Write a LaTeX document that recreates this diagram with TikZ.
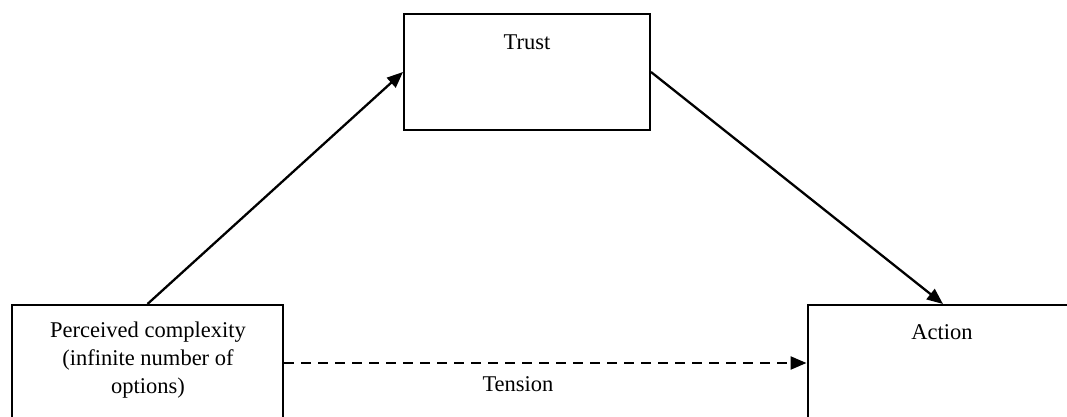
\documentclass[tikz,border=0pt]{standalone}
\usepackage{fontspec}
\setmainfont{Liberation Serif}
\usetikzlibrary{arrows.meta}
\begin{document}
\begin{tikzpicture}[x=1pt,y=-1pt,
  box/.style={draw, line width=2pt, minimum width=271pt, minimum height=116pt, inner sep=0pt},
  lbl/.style={font=\fontsize{22.5}{28}\selectfont, align=center, inner sep=0pt},
  conn/.style={line width=2.3pt, -{Triangle[length=16pt,width=13pt]}}
]
\useasboundingbox (0,0) rectangle (1067,417);
\clip (0,0) rectangle (1067,417);
\node[box, minimum width=246pt] (trust) at (527,72) {};
\node[box] (lb) at (147.5,363) {};
\node[box] (act) at (943,363) {};
\node[lbl] (tt) at (527,42) {Trust};
\node[lbl] (lt) at (148,360) {Perceived complexity\\(infinite number of\\options)};
\node[lbl] (at) at (942,332) {Action};
\draw[conn] (lb.north) -- (trust.west);
\draw[conn] (trust.east) -- (act.north);
\draw[conn, dash pattern=on 10pt off 7pt] (lb.east) -- (act.west);
\node[lbl] (ten) at (518,384) {Tension};
\end{tikzpicture}
\end{document}
